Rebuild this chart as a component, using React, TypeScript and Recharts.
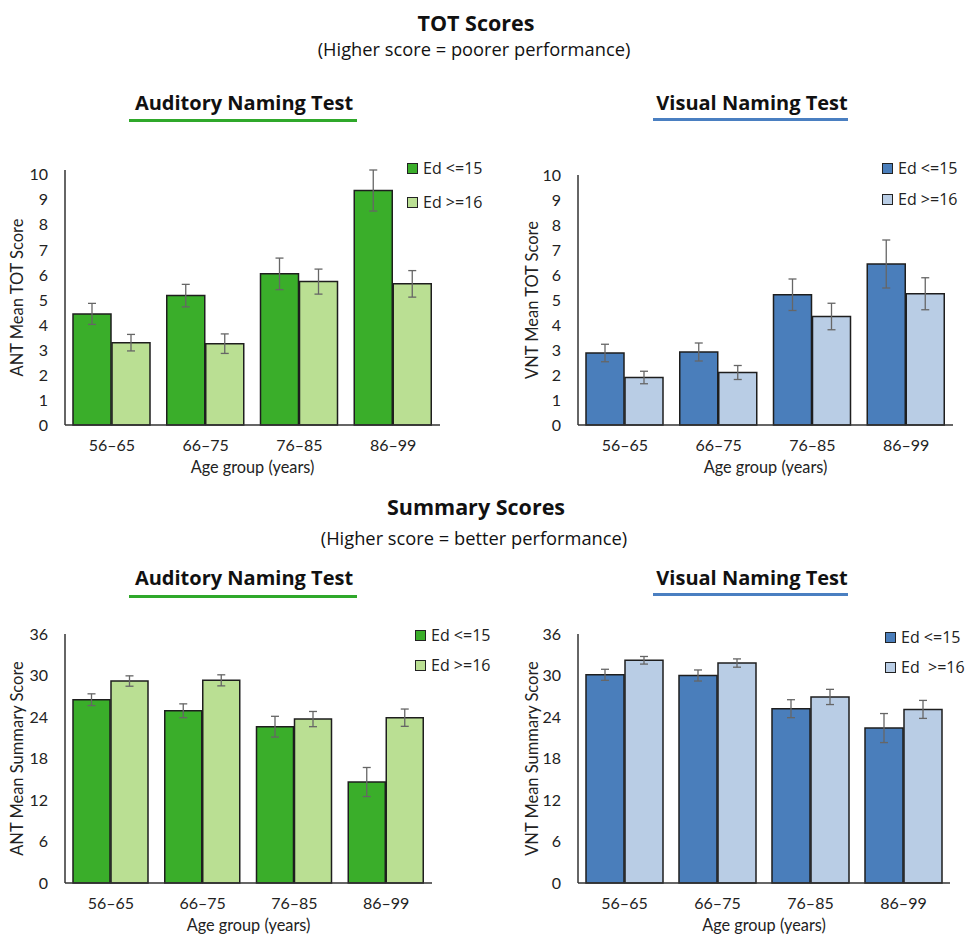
import { Bar, BarChart, ErrorBar, Legend, XAxis, YAxis } from 'recharts';

const ageGroups = ['56–65', '66–75', '76–85', '86–99'];
const legendNames = ['Ed <=15', 'Ed >=16'];
const legendNamesVntSummary = ['Ed <=15', 'Ed  >=16'];

const totTicks = [0, 1, 2, 3, 4, 5, 6, 7, 8, 9, 10];
const summaryTicks = [0, 6, 12, 18, 24, 30, 36];

// ANT TOT
const antTotLow = [4.44, 5.17, 6.04, 9.37];
const antTotLowErr = [0.42, 0.45, 0.63, 0.82];
const antTotHigh = [3.29, 3.25, 5.73, 5.64];
const antTotHighErr = [0.33, 0.39, 0.5, 0.53];

// VNT TOT
const vntTotLow = [2.88, 2.92, 5.21, 6.44];
const vntTotLowErr = [0.35, 0.36, 0.63, 0.96];
const vntTotHigh = [1.9, 2.1, 4.34, 5.25];
const vntTotHighErr = [0.25, 0.28, 0.53, 0.64];

// ANT summary
const antSumLow = [26.5, 24.9, 22.6, 14.6];
const antSumLowErr = [0.85, 1.0, 1.5, 2.1];
const antSumHigh = [29.2, 29.3, 23.7, 23.9];
const antSumHighErr = [0.75, 0.8, 1.1, 1.25];

// VNT summary
const vntSumLow = [30.1, 30.0, 25.2, 22.4];
const vntSumLowErr = [0.8, 0.8, 1.3, 2.1];
const vntSumHigh = [32.2, 31.8, 26.9, 25.1];
const vntSumHighErr = [0.55, 0.6, 1.1, 1.3];

const FONT = 'Lato, "Noto Sans", sans-serif';
const TITLE_FONT = '"Open Sans", Lato, sans-serif';
const green = ['#3aae2a', '#badf93'];
const blue = ['#4a7ebb', '#b9cde5'];

function Panel(props: any) {
  const { x, y, width, height, axisWidth, top, right, ticks, yLabel, yLabelOffset, low, lowErr, high, highErr, colors, names, legend } = props;
  const data = ageGroups.map((g, i) => ({ group: g, low: low[i], lowErr: lowErr[i], high: high[i], highErr: highErr[i] }));
  return (
    <div style={{ position: 'absolute', left: x, top: y }}>
      <BarChart width={width} height={height} data={data} margin={{ top, right, bottom: 4, left: 0 }} barCategoryGap={8} barGap={1}>
        <XAxis
          dataKey="group"
          height={50}
          tickSize={0}
          tickMargin={15}
          axisLine={{ stroke: '#333', strokeWidth: 1.5 }}
          tick={{ fill: '#222', fontSize: 16, fontFamily: FONT }}
          label={{ value: 'Age group (years)', position: 'insideBottom', offset: 2, fill: '#222', fontSize: 16.3, fontFamily: FONT }}
        />
        <YAxis
          width={axisWidth}
          domain={[0, ticks[ticks.length - 1]]}
          ticks={ticks}
          interval={0}
          tickSize={0}
          tickMargin={17}
          axisLine={{ stroke: '#333', strokeWidth: 1.5 }}
          tick={{ fill: '#222', fontSize: 16, fontFamily: FONT }}
          label={{ value: yLabel, angle: -90, position: 'insideLeft', offset: yLabelOffset, fill: '#222', fontSize: 16.5, fontFamily: FONT, style: { textAnchor: 'middle' } }}
        />
        <Legend
          layout="vertical"
          align="center"
          verticalAlign="middle"
          wrapperStyle={{ left: legend.x, top: legend.y, width: 'auto', height: 'auto' }}
          content={() => (
            <div style={{ fontFamily: TITLE_FONT, fontSize: 16, color: '#222' }}>
              {names.map((n: string, i: number) => (
                <div key={n} style={{ display: 'flex', alignItems: 'center', height: legend.gap, whiteSpace: 'pre' }}>
                  <span style={{ display: 'inline-block', width: 9, height: 9, background: colors[i], border: '1.5px solid #222', marginRight: 5 }} />
                  <span>{n}</span>
                </div>
              ))}
            </div>
          )}
        />
        <Bar dataKey="low" name={names[0]} fill={colors[0]} stroke="#1e1e1e" strokeWidth={1.5} isAnimationActive={false}>
          <ErrorBar dataKey="lowErr" width={4} stroke="#666" strokeWidth={1.3} />
        </Bar>
        <Bar dataKey="high" name={names[1]} fill={colors[1]} stroke="#1e1e1e" strokeWidth={1.5} isAnimationActive={false}>
          <ErrorBar dataKey="highErr" width={4} stroke="#666" strokeWidth={1.3} />
        </Bar>
      </BarChart>
    </div>
  );
}

function Text({ x, y, w, size, bold, children }: any) {
  return (
    <div style={{ position: 'absolute', left: x - w / 2, top: y - size * 0.7, width: w, textAlign: 'center', fontFamily: TITLE_FONT, fontSize: size, lineHeight: `${size * 1.4}px`, fontWeight: bold ? 700 : 400, color: '#111', whiteSpace: 'nowrap' }}>
      {children}
    </div>
  );
}

function Underline({ x1, x2, y, color }: any) {
  return <div style={{ position: 'absolute', left: x1, top: y - 1.5, width: x2 - x1, height: 3, background: color }} />;
}

export default function App() {
  return (
    <div style={{ position: 'absolute', left: 0, top: 0, width: 966, height: 936, background: '#fff', overflow: 'hidden' }}>
      <Text x={476} y={23} w={400} size={21.5} bold>TOT Scores</Text>
      <Text x={474} y={49} w={500} size={18.3}>(Higher score = poorer performance)</Text>
      <Text x={244} y={103} w={300} size={20} bold>Auditory Naming Test</Text>
      <Underline x1={129} x2={357} y={120} color="#2fa82a" />
      <Text x={752} y={103} w={300} size={20} bold>Visual Naming Test</Text>
      <Underline x1={653} x2={848} y={119.5} color="#4a7fc1" />

      <Text x={476} y={507} w={400} size={21.5} bold>Summary Scores</Text>
      <Text x={474} y={538} w={500} size={18.3}>(Higher score = better performance)</Text>
      <Text x={244} y={578} w={300} size={20} bold>Auditory Naming Test</Text>
      <Underline x1={129} x2={357} y={596} color="#2fa82a" />
      <Text x={752} y={578} w={300} size={20} bold>Visual Naming Test</Text>
      <Underline x1={653} x2={848} y={594.5} color="#4a7fc1" />

      <Panel x={0} y={150} width={480} height={329} axisWidth={65} top={20} right={40} ticks={totTicks}
        yLabel="ANT Mean TOT Score" yLabelOffset={17} low={antTotLow} lowErr={antTotLowErr} high={antTotHigh} highErr={antTotHighErr}
        colors={green} names={legendNames} legend={{ x: 407, y: 1, gap: 34 }} />
      <Panel x={490} y={150} width={476} height={329} axisWidth={88} top={25} right={13} ticks={totTicks}
        yLabel="VNT Mean TOT Score" yLabelOffset={42} low={vntTotLow} lowErr={vntTotLowErr} high={vntTotHigh} highErr={vntTotHighErr}
        colors={blue} names={legendNames} legend={{ x: 392, y: 2.5, gap: 31 }} />
      <Panel x={0} y={610} width={480} height={327} axisWidth={65} top={24} right={48} ticks={summaryTicks}
        yLabel="ANT Mean Summary Score" yLabelOffset={17} low={antSumLow} lowErr={antSumLowErr} high={antSumHigh} highErr={antSumHighErr}
        colors={green} names={legendNames} legend={{ x: 415, y: 10, gap: 30 }} />
      <Panel x={490} y={610} width={476} height={327} axisWidth={88} top={24} right={16} ticks={summaryTicks}
        yLabel="VNT Mean Summary Score" yLabelOffset={42} low={vntSumLow} lowErr={vntSumLowErr} high={vntSumHigh} highErr={vntSumHighErr}
        colors={blue} names={legendNamesVntSummary} legend={{ x: 395, y: 12, gap: 30 }} />
    </div>
  );
}
